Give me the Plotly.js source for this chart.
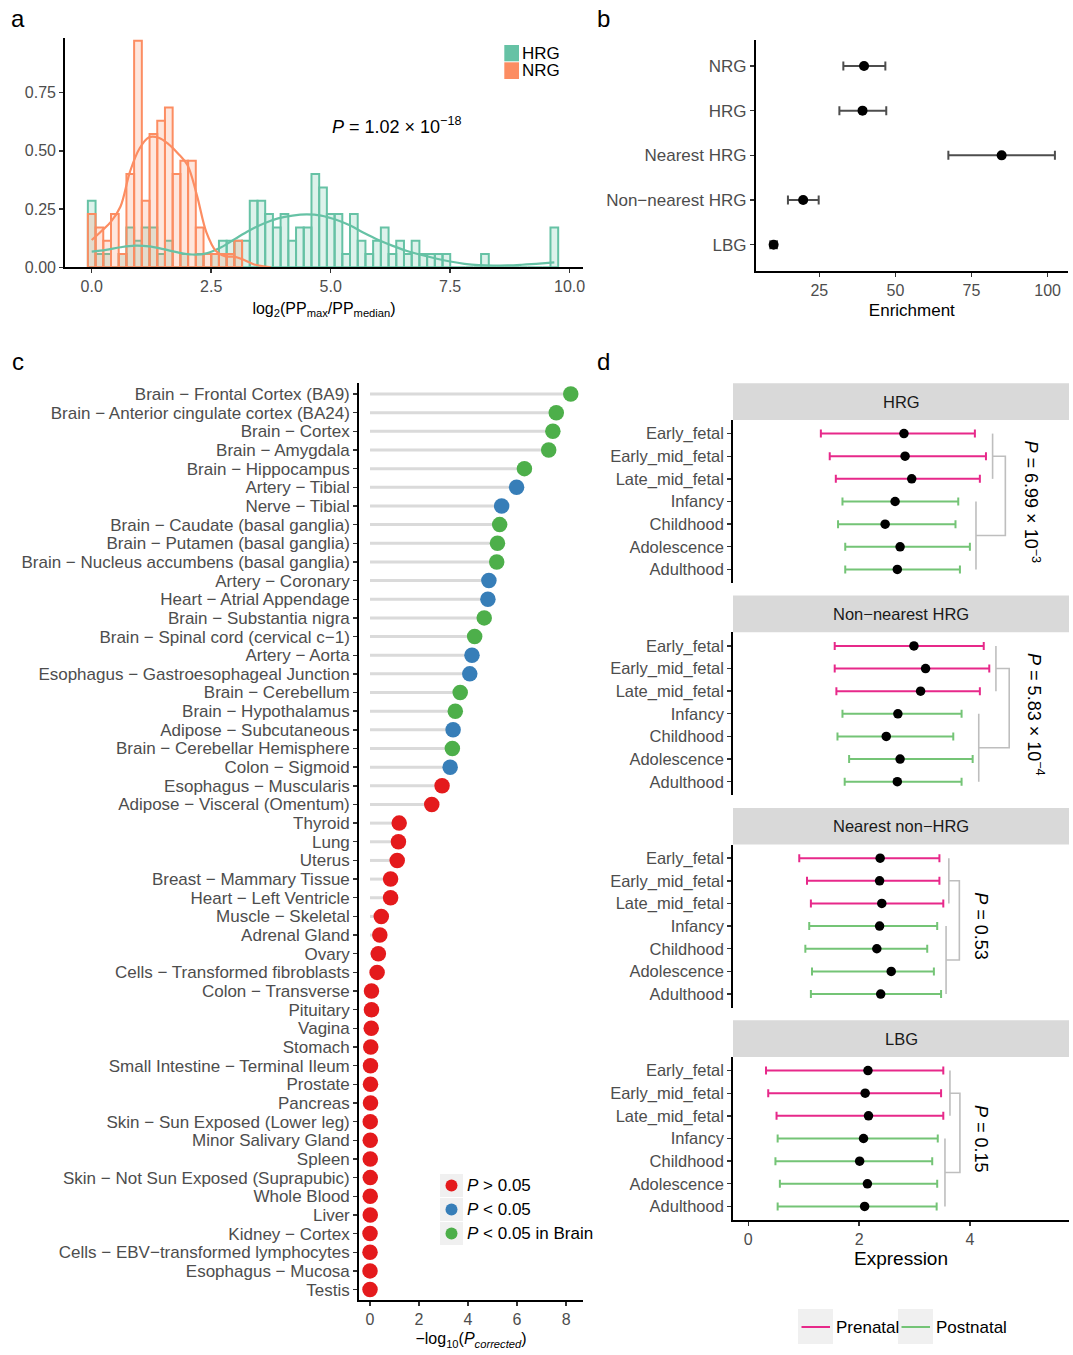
<!DOCTYPE html>
<html><head><meta charset="utf-8">
<script src="https://cdn.plot.ly/plotly-3.0.1.min.js"></script>
<style>html,body{margin:0;padding:0;background:#fff;}#chart{width:1073px;height:1355px;}</style>
</head><body><div id="chart"></div>
<script>
// ================= Panel a : histogram + density =================
const binCenters = [0, 0.161, 0.323, 0.484, 0.645, 0.807, 0.968, 1.129, 1.291, 1.452, 1.613, 1.775, 1.936, 2.097, 2.259, 2.42, 2.581, 2.743, 2.904, 3.065, 3.227, 3.388, 3.549, 3.711, 3.872, 4.033, 4.195, 4.356, 4.517, 4.679, 4.84, 5.001, 5.163, 5.324, 5.485, 5.647, 5.808, 5.969, 6.131, 6.292, 6.453, 6.615, 6.776, 6.937, 7.099, 7.26, 7.421, 7.583, 7.744, 7.905, 8.067, 8.228, 8.389, 8.55, 8.712, 8.873, 9.034, 9.196, 9.357, 9.518, 9.68];
const hrgDensity = [0.286, 0.057, 0.057, 0, 0.057, 0.171, 0.114, 0.171, 0.171, 0.057, 0.114, 0, 0.057, 0, 0.057, 0, 0.057, 0.114, 0.114, 0.114, 0.114, 0.286, 0.286, 0.229, 0.171, 0.229, 0.114, 0.171, 0.171, 0.400, 0.343, 0.229, 0.229, 0.057, 0.229, 0.114, 0.057, 0.114, 0.171, 0.057, 0.114, 0.057, 0.114, 0.057, 0.057, 0.057, 0.057, 0, 0, 0, 0, 0.057, 0, 0, 0, 0, 0, 0, 0, 0, 0.171];
const nrgDensity = [0.229, 0.171, 0.114, 0.229, 0.057, 0.400, 0.972, 0.286, 0.572, 0.629, 0.686, 0.400, 0.457, 0.457, 0.171, 0.057, 0.057, 0.057, 0.057, 0.114];
const hrgCurveX = [0, 0.3, 0.6, 0.9, 1.2, 1.5, 1.8, 2.1, 2.4, 2.7, 3.0, 3.3, 3.6, 3.9, 4.2, 4.5, 4.8, 5.1, 5.4, 5.7, 6.0, 6.3, 6.6, 6.9, 7.2, 7.5, 7.8, 8.1, 8.4, 8.7, 9.0, 9.3, 9.68];
const hrgCurveY = [0.067, 0.075, 0.086, 0.093, 0.09, 0.078, 0.064, 0.055, 0.06, 0.085, 0.122, 0.158, 0.188, 0.21, 0.222, 0.227, 0.222, 0.205, 0.18, 0.147, 0.117, 0.092, 0.07, 0.053, 0.038, 0.025, 0.015, 0.009, 0.007, 0.008, 0.011, 0.015, 0.021];
const nrgCurveX = [0, 0.2, 0.4, 0.6, 0.8, 1.0, 1.2, 1.4, 1.6, 1.8, 2.0, 2.2, 2.4, 2.6, 2.8, 3.0, 3.2, 3.4, 3.6, 3.75];
const nrgCurveY = [0.117, 0.155, 0.195, 0.26, 0.41, 0.51, 0.558, 0.556, 0.53, 0.49, 0.44, 0.31, 0.15, 0.07, 0.047, 0.045, 0.03, 0.012, 0.004, 0.0];
const histGroups = ["HRG", "NRG"];
const histPText = "<i>P</i> = 1.02 × 10<sup>−18</sup>";
const histTickVals = [0, 2.5, 5, 7.5, 10];
const histTickText = ["0.0", "2.5", "5.0", "7.5", "10.0"];
const densTickVals = [0, 0.25, 0.5, 0.75];
const densTickText = ["0.00", "0.25", "0.50", "0.75"];

// ================= Panel b : enrichment =================
const enrichGroups = ["NRG", "HRG", "Nearest HRG", "Non−nearest HRG", "LBG"];
const enrichValue = [39.7, 39.2, 84.9, 19.7, 10.0];
const enrichLow = [32.9, 31.6, 67.4, 14.7, 8.9];
const enrichHigh = [46.7, 47.0, 102.4, 24.8, 11.1];
const enrichTicks = [25, 50, 75, 100];

// ================= Panel c : tissues =================
const tissues = ["Brain − Frontal Cortex (BA9)", "Brain − Anterior cingulate cortex (BA24)", "Brain − Cortex", "Brain − Amygdala", "Brain − Hippocampus", "Artery − Tibial", "Nerve − Tibial", "Brain − Caudate (basal ganglia)", "Brain − Putamen (basal ganglia)", "Brain − Nucleus accumbens (basal ganglia)", "Artery − Coronary", "Heart − Atrial Appendage", "Brain − Substantia nigra", "Brain − Spinal cord (cervical c−1)", "Artery − Aorta", "Esophagus − Gastroesophageal Junction", "Brain − Cerebellum", "Brain − Hypothalamus", "Adipose − Subcutaneous", "Brain − Cerebellar Hemisphere", "Colon − Sigmoid", "Esophagus − Muscularis", "Adipose − Visceral (Omentum)", "Thyroid", "Lung", "Uterus", "Breast − Mammary Tissue", "Heart − Left Ventricle", "Muscle − Skeletal", "Adrenal Gland", "Ovary", "Cells − Transformed fibroblasts", "Colon − Transverse", "Pituitary", "Vagina", "Stomach", "Small Intestine − Terminal Ileum", "Prostate", "Pancreas", "Skin − Sun Exposed (Lower leg)", "Minor Salivary Gland", "Spleen", "Skin − Not Sun Exposed (Suprapubic)", "Whole Blood", "Liver", "Kidney − Cortex", "Cells − EBV−transformed lymphocytes", "Esophagus − Mucosa", "Testis"];
const tissueScore = [8.19, 7.60, 7.46, 7.29, 6.30, 5.98, 5.37, 5.29, 5.20, 5.17, 4.85, 4.81, 4.66, 4.27, 4.16, 4.07, 3.68, 3.48, 3.39, 3.36, 3.27, 2.94, 2.52, 1.19, 1.16, 1.11, 0.84, 0.84, 0.46, 0.40, 0.34, 0.29, 0.06, 0.06, 0.05, 0.03, 0.02, 0.02, 0.02, 0.01, 0.01, 0.01, 0.01, 0.01, 0.01, 0.0, 0.0, 0.0, 0.0];
const tissueClass = ["brain", "brain", "brain", "brain", "brain", "sig", "sig", "brain", "brain", "brain", "sig", "sig", "brain", "brain", "sig", "sig", "brain", "brain", "sig", "brain", "sig", "ns", "ns", "ns", "ns", "ns", "ns", "ns", "ns", "ns", "ns", "ns", "ns", "ns", "ns", "ns", "ns", "ns", "ns", "ns", "ns", "ns", "ns", "ns", "ns", "ns", "ns", "ns", "ns"];
const classKeys = ["ns", "sig", "brain"];
const classLabels = ["<i>P</i> &gt; 0.05", "<i>P</i> &lt; 0.05", "<i>P</i> &lt; 0.05 in Brain"];
const classColors = ["#E41A1C", "#377EB8", "#4DAF4A"];
const scoreTicks = [0, 2, 4, 6, 8];

// ================= Panel d : expression by stage =================
const stages = ["Early_fetal", "Early_mid_fetal", "Late_mid_fetal", "Infancy", "Childhood", "Adolescence", "Adulthood"];
const stagePeriod = ["Prenatal", "Prenatal", "Prenatal", "Postnatal", "Postnatal", "Postnatal", "Postnatal"];
const periodNames = ["Prenatal", "Postnatal"];
const facetNames = ["HRG", "Non−nearest HRG", "Nearest non−HRG", "LBG"];
const hrgMean = [2.81, 2.83, 2.95, 2.65, 2.47, 2.74, 2.69];
const hrgLow = [1.31, 1.47, 1.58, 1.70, 1.62, 1.75, 1.75];
const hrgHigh = [4.09, 4.29, 4.18, 3.79, 3.74, 4.00, 3.82];
const nonNearestMean = [2.99, 3.20, 3.11, 2.70, 2.49, 2.74, 2.69];
const nonNearestLow = [1.56, 1.56, 1.59, 1.70, 1.61, 1.82, 1.74];
const nonNearestHigh = [4.25, 4.35, 4.18, 3.85, 3.70, 4.05, 3.85];
const nearestNonMean = [2.38, 2.37, 2.41, 2.37, 2.32, 2.58, 2.39];
const nearestNonLow = [0.92, 1.06, 1.13, 1.10, 1.03, 1.15, 1.13];
const nearestNonHigh = [3.45, 3.45, 3.52, 3.41, 3.23, 3.35, 3.48];
const lbgMean = [2.16, 2.11, 2.17, 2.08, 2.01, 2.15, 2.10];
const lbgLow = [0.32, 0.36, 0.51, 0.53, 0.49, 0.57, 0.53];
const lbgHigh = [3.52, 3.48, 3.52, 3.42, 3.32, 3.41, 3.40];
const pValueText = ["6.99 × 10<sup>−3</sup>", "5.83 × 10<sup>−4</sup>", "0.53", "0.15"];
const bracketPreX = [4.41, 4.47, 3.62, 3.64];
const bracketPostX = [4.11, 4.16, 3.57, 3.55];
const bracketJoinX = [4.64, 4.71, 3.81, 3.82];
const pLabelX = [5.12, 5.17, 4.20, 4.21];
const exprTicks = [0, 2, 4];

// ================= layout helpers =================
const W = 1073, H = 1355;
const FONT = "Liberation Sans, Arial, Helvetica, sans-serif";
const TICKCOL = "#4D4D4D";
const xd = (a, b) => [a / W, b / W];
const yd = (top, bottom) => [1 - bottom / H, 1 - top / H];
const px = v => v / W;
const py = v => 1 - v / H;
const HRG_COL = "#66C2A5", NRG_COL = "#FC8D62";
const PRE_COL = "#E7298A", POST_COL = "#74C476";

function baseAxis(extra) {
  return Object.assign({
    showline: true, linecolor: "black", linewidth: 1.8, mirror: false,
    ticks: "outside", ticklen: 4, tickwidth: 1.4, tickcolor: "#333333",
    showgrid: false, zeroline: false, fixedrange: true,
    tickfont: {family: FONT, size: 16, color: TICKCOL}
  }, extra);
}

const traces = [];
const shapes = [];
const annotations = [];

// ---- Panel a traces
traces.push({type: "bar", name: histGroups[0], x: binCenters.slice(0, hrgDensity.length), y: hrgDensity,
  width: 0.1613, xaxis: "x", yaxis: "y", showlegend: false,
  marker: {color: "rgba(102,194,165,0.22)", line: {color: HRG_COL, width: 2}}});
traces.push({type: "bar", name: histGroups[1], x: binCenters.slice(0, nrgDensity.length), y: nrgDensity,
  width: 0.1613, xaxis: "x", yaxis: "y", showlegend: false,
  marker: {color: "rgba(252,141,98,0.22)", line: {color: NRG_COL, width: 2}}});
traces.push({type: "scatter", mode: "lines", x: hrgCurveX, y: hrgCurveY, xaxis: "x", yaxis: "y", showlegend: false,
  line: {color: HRG_COL, width: 2.2, shape: "spline", smoothing: 1}});
traces.push({type: "scatter", mode: "lines", x: nrgCurveX, y: nrgCurveY, xaxis: "x", yaxis: "y", showlegend: false,
  line: {color: NRG_COL, width: 2.2, shape: "spline", smoothing: 1}});

// ---- Panel b traces
const enrichIdx = enrichGroups.map((g, i) => i);
traces.push({type: "scatter", mode: "markers", x: enrichValue, y: enrichIdx, xaxis: "x2", yaxis: "y2", showlegend: false,
  marker: {color: "black", size: 10},
  error_x: {type: "data", symmetric: false, array: enrichHigh.map((h, i) => h - enrichValue[i]),
    arrayminus: enrichValue.map((v, i) => v - enrichLow[i]), color: "#4D4D4D", thickness: 2, width: 4.5}});

// ---- Panel c traces
const tissueIdx = tissues.map((t, i) => i);
const segX = [], segY = [];
tissueScore.forEach((v, i) => { segX.push(0, v, null); segY.push(i, i, null); });
traces.push({type: "scatter", mode: "lines", x: segX, y: segY, xaxis: "x3", yaxis: "y3", showlegend: false,
  line: {color: "#DADADA", width: 3}, hoverinfo: "skip"});
classKeys.forEach((k, ci) => {
  const xs = [], ys = [];
  tissueClass.forEach((c, i) => { if (c === k) { xs.push(tissueScore[i]); ys.push(i); } });
  traces.push({type: "scatter", mode: "markers", x: xs, y: ys, xaxis: "x3", yaxis: "y3", showlegend: false,
    marker: {color: classColors[ci], size: 15.5}});
});

// ---- Panel d traces
const facetMeans = [hrgMean, nonNearestMean, nearestNonMean, lbgMean];
const facetLows = [hrgLow, nonNearestLow, nearestNonLow, lbgLow];
const facetHighs = [hrgHigh, nonNearestHigh, nearestNonHigh, lbgHigh];
const stageIdx = stages.map((s, i) => i);
const facetTops = [420, 632.3, 844.6, 1057];
const facetH = 163, stripH = 36.7;
facetNames.forEach((fname, f) => {
  const xa = "x" + (4 + f), ya = "y" + (4 + f);
  periodNames.forEach((p, pi) => {
    const rows = stageIdx.filter(i => stagePeriod[i] === p);
    const m = rows.map(i => facetMeans[f][i]);
    traces.push({type: "scatter", mode: "markers", x: m, y: rows, xaxis: xa, yaxis: ya, showlegend: false,
      marker: {color: "black", size: 9.5},
      error_x: {type: "data", symmetric: false,
        array: rows.map(i => facetHighs[f][i] - facetMeans[f][i]),
        arrayminus: rows.map(i => facetMeans[f][i] - facetLows[f][i]),
        color: pi === 0 ? PRE_COL : POST_COL, thickness: 2, width: 4}});
  });
  const preRows = stageIdx.filter(i => stagePeriod[i] === "Prenatal");
  const postRows = stageIdx.filter(i => stagePeriod[i] === "Postnatal");
  const preMid = (Math.min(...preRows) + Math.max(...preRows)) / 2;
  const postMid = (Math.min(...postRows) + Math.max(...postRows)) / 2;
  traces.push({type: "scatter", mode: "lines", xaxis: xa, yaxis: ya, showlegend: false, hoverinfo: "skip",
    x: [bracketPreX[f], bracketPreX[f], null, bracketPostX[f], bracketPostX[f], null,
        bracketPreX[f], bracketJoinX[f], bracketJoinX[f], bracketPostX[f]],
    y: [Math.min(...preRows), Math.max(...preRows), null, Math.min(...postRows), Math.max(...postRows), null,
        preMid, preMid, postMid, postMid],
    line: {color: "#BEBEBE", width: 1.6}});
  annotations.push({xref: xa, yref: ya, x: pLabelX[f], y: (stages.length - 1) / 2, textangle: 90,
    text: "<i>P</i> = " + pValueText[f], showarrow: false, xanchor: "center", yanchor: "middle",
    font: {family: FONT, size: 18, color: "black"}});
  // strip
  const top = facetTops[f];
  shapes.push({type: "rect", xref: "paper", yref: "paper", x0: px(733), x1: px(1069),
    y0: py(top), y1: py(top - stripH), fillcolor: "#D9D9D9", line: {width: 0}, layer: "below"});
  annotations.push({xref: "paper", yref: "paper", x: px(901), y: py(top - stripH / 2), text: fname,
    showarrow: false, xanchor: "center", yanchor: "middle", font: {family: FONT, size: 16.5, color: "#1A1A1A"}});
});

// ================= layout =================
const layout = {
  width: W, height: H, margin: {l: 0, r: 0, t: 0, b: 0},
  paper_bgcolor: "white", plot_bgcolor: "rgba(0,0,0,0)",
  font: {family: FONT, size: 16, color: TICKCOL},
  barmode: "overlay", showlegend: false,
  // panel a
  xaxis: baseAxis({domain: xd(65, 583), range: [-0.559, 10.28], anchor: "y",
    tickvals: histTickVals, ticktext: histTickText,
    title: {text: "log<sub>2</sub>(PP<sub>max</sub>/PP<sub>median</sub>)", standoff: 8, font: {family: FONT, size: 16, color: "black"}}}),
  yaxis: baseAxis({domain: yd(38.3, 267.3), range: [0, 0.983], anchor: "x",
    tickvals: densTickVals, ticktext: densTickText}),
  // panel b
  xaxis2: baseAxis({domain: xd(755.7, 1068), range: [4.11, 106.7], anchor: "y2", tickvals: enrichTicks,
    title: {text: "Enrichment", standoff: 6, font: {family: FONT, size: 17, color: "black"}}}),
  yaxis2: baseAxis({domain: yd(40, 270.7), range: [4.58, -0.58], anchor: "x2",
    tickvals: enrichIdx, ticktext: enrichGroups, tickfont: {family: FONT, size: 17, color: TICKCOL}}),
  // panel c
  xaxis3: baseAxis({domain: xd(359, 583), range: [-0.449, 8.69], anchor: "y3", tickvals: scoreTicks,
    title: {text: "−log<sub>10</sub>(<i>P</i><sub><i>corrected</i></sub>)", standoff: 6, font: {family: FONT, size: 16, color: "black"}}}),
  yaxis3: baseAxis({domain: yd(383, 1300), range: [48.56, -0.59], anchor: "x3",
    tickvals: tissueIdx, ticktext: tissues, tickfont: {family: FONT, size: 17, color: TICKCOL}}),
  shapes: shapes, annotations: annotations
};
const dRange = [-0.276, 5.789];
facetNames.forEach((fname, f) => {
  const top = facetTops[f];
  const isLast = f === facetNames.length - 1;
  layout["xaxis" + (4 + f)] = isLast
    ? baseAxis({domain: xd(733, 1069), range: dRange, anchor: "y" + (4 + f), tickvals: exprTicks,
        title: {text: "Expression", standoff: 3, font: {family: FONT, size: 19, color: "black"}}})
    : {domain: xd(733, 1069), range: dRange, anchor: "y" + (4 + f), visible: false, fixedrange: true};
  layout["yaxis" + (4 + f)] = baseAxis({domain: yd(top, top + facetH), range: [6.6, -0.6], anchor: "x" + (4 + f),
    tickvals: stageIdx, ticktext: stages, tickfont: {family: FONT, size: 16.5, color: TICKCOL}});
});

// ---- panel letters
[["a", 18, 18], ["b", 603, 18], ["c", 18, 362], ["d", 603, 362]].forEach(l => {
  annotations.push({xref: "paper", yref: "paper", x: px(l[1]), y: py(l[2]), text: l[0], showarrow: false,
    xanchor: "center", yanchor: "middle", font: {family: FONT, size: 24, color: "black"}});
});

// ---- panel a annotation + legend
annotations.push({xref: "x", yref: "y", x: 6.37, y: 0.61, text: histPText, showarrow: false,
  xanchor: "center", yanchor: "middle", font: {family: FONT, size: 18, color: "black"}});
[[HRG_COL, 45, 61.3], [NRG_COL, 62.3, 79]].forEach((k, i) => {
  shapes.push({type: "rect", xref: "paper", yref: "paper", x0: px(504.3), x1: px(519), y0: py(k[2]), y1: py(k[1]),
    fillcolor: k[0], line: {width: 0}});
  annotations.push({xref: "paper", yref: "paper", x: px(520), y: py((k[1] + k[2]) / 2), text: histGroups[i],
    showarrow: false, xanchor: "left", yanchor: "middle", font: {family: FONT, size: 17, color: "black"}});
});

// ---- panel c legend
classKeys.forEach((k, i) => {
  const cy = 1185.5 + i * 24;
  shapes.push({type: "rect", xref: "paper", yref: "paper", x0: px(440), x1: px(463), y0: py(cy + 11.5), y1: py(cy - 11.5),
    fillcolor: "#F0F0F0", line: {width: 0}});
  shapes.push({type: "circle", xref: "paper", yref: "paper", x0: px(445.5), x1: px(457.5), y0: py(cy + 6), y1: py(cy - 6),
    fillcolor: classColors[i], line: {width: 0}});
  annotations.push({xref: "paper", yref: "paper", x: px(465), y: py(cy), text: classLabels[i], showarrow: false,
    xanchor: "left", yanchor: "middle", font: {family: FONT, size: 17, color: "black"}});
});

// ---- panel d legend
periodNames.forEach((p, i) => {
  const x0 = 798 + i * 100;
  shapes.push({type: "rect", xref: "paper", yref: "paper", x0: px(x0), x1: px(x0 + 35), y0: py(1344), y1: py(1309),
    fillcolor: "#F0F0F0", line: {width: 0}});
  shapes.push({type: "line", xref: "paper", yref: "paper", x0: px(x0 + 3.5), x1: px(x0 + 32), y0: py(1327), y1: py(1327),
    line: {color: i === 0 ? PRE_COL : POST_COL, width: 2}});
  annotations.push({xref: "paper", yref: "paper", x: px(x0 + 36), y: py(1327), text: p, showarrow: false,
    xanchor: "left", yanchor: "middle", font: {family: FONT, size: 17, color: "black"}});
});

Plotly.newPlot("chart", traces, layout, {staticPlot: true, displayModeBar: false});
</script></body></html>
